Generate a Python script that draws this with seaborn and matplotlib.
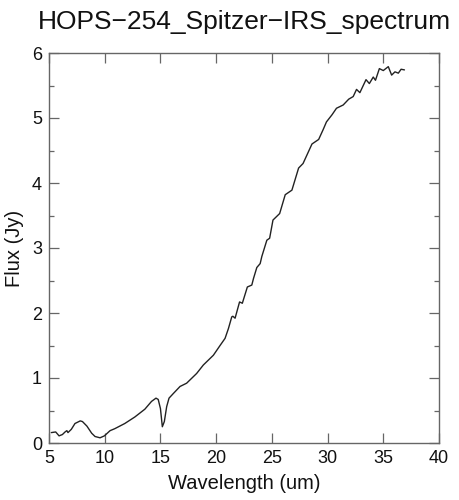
import numpy as np
import pandas as pd
import matplotlib
matplotlib.use("Agg")
import matplotlib.pyplot as plt
import seaborn as sns
from matplotlib.ticker import MultipleLocator

# Spectrum values
wavelength = [5.2, 5.6, 5.9, 6.2, 6.44, 6.6, 6.7, 7.0, 7.33, 7.8, 8.0, 8.4, 8.83,
              9.13, 9.58, 9.97, 10.48, 10.9, 11.8, 12.7, 13.6, 14.2, 14.6, 14.8,
              15.0, 15.17, 15.35, 15.56, 15.77, 16.15, 16.76, 17.35, 18.25, 18.85,
              19.45, 19.75, 20.35, 20.8, 21.1, 21.4, 21.5, 21.7, 22.1, 22.35, 22.8,
              23.2, 23.35, 23.65, 23.95, 24.1, 24.55, 24.8, 25.1, 25.4, 25.7, 26.2,
              26.8, 27.4, 27.8, 28.6, 29.2, 29.6, 29.9, 30.4, 30.8, 31.4, 31.9,
              32.3, 32.6, 32.9, 33.45, 33.75, 34.1, 34.3, 34.65, 35.0, 35.45,
              35.75, 36.05, 36.35, 36.6, 36.9]
flux = [0.16, 0.17, 0.11, 0.13, 0.17, 0.19, 0.16, 0.21, 0.30, 0.34, 0.33, 0.26, 0.15,
        0.10, 0.08, 0.11, 0.19, 0.22, 0.30, 0.40, 0.52, 0.64, 0.69, 0.67,
        0.53, 0.25, 0.33, 0.56, 0.69, 0.76, 0.87, 0.92, 1.07, 1.20,
        1.30, 1.35, 1.50, 1.61, 1.76, 1.94, 1.95, 1.92, 2.17, 2.15, 2.40,
        2.43, 2.53, 2.70, 2.76, 2.87, 3.12, 3.15, 3.43, 3.48, 3.53, 3.82,
        3.89, 4.23, 4.30, 4.60, 4.67, 4.82, 4.94, 5.05, 5.15, 5.20, 5.29,
        5.33, 5.44, 5.39, 5.59, 5.53, 5.63, 5.58, 5.76, 5.73, 5.79,
        5.66, 5.71, 5.69, 5.75, 5.74]

df = pd.DataFrame({"Wavelength": wavelength, "Flux": flux})

sns.set_style("ticks")
plt.rcParams["font.family"] = ["Liberation Sans", "DejaVu Sans"]

fig = plt.figure(figsize=(4.59, 5.0), dpi=100)
ax = fig.add_axes([0.1068, 0.114, 0.8496, 0.78])

sns.lineplot(data=df, x="Wavelength", y="Flux", ax=ax, sort=False,
             color="#222222", linewidth=1.0)

ax.set_xlim(5, 40)
ax.set_ylim(0, 6)
ax.xaxis.set_major_locator(MultipleLocator(5))
ax.yaxis.set_major_locator(MultipleLocator(1))
ax.yaxis.set_minor_locator(MultipleLocator(0.5))
ax.tick_params(which="both", direction="in", top=True, right=True,
               labelsize=13, color="#666666", width=0.9, labelcolor="#111111")
ax.tick_params(which="major", length=7, pad=5)
ax.tick_params(which="minor", length=3.5)
for s in ax.spines.values():
    s.set_visible(True)
    s.set_color("#666666")
    s.set_linewidth(1.0)

ax.set_xlabel("Wavelength (um)", fontsize=14.5, labelpad=5, color="#111111")
ax.set_ylabel("Flux (Jy)", fontsize=14.5, labelpad=6, color="#111111")
ax.set_title("HOPS\u2212254_Spitzer\u2212IRS_spectrum", fontsize=19, pad=17,
             color="#111111")

fig.savefig("out.png", dpi=100)
